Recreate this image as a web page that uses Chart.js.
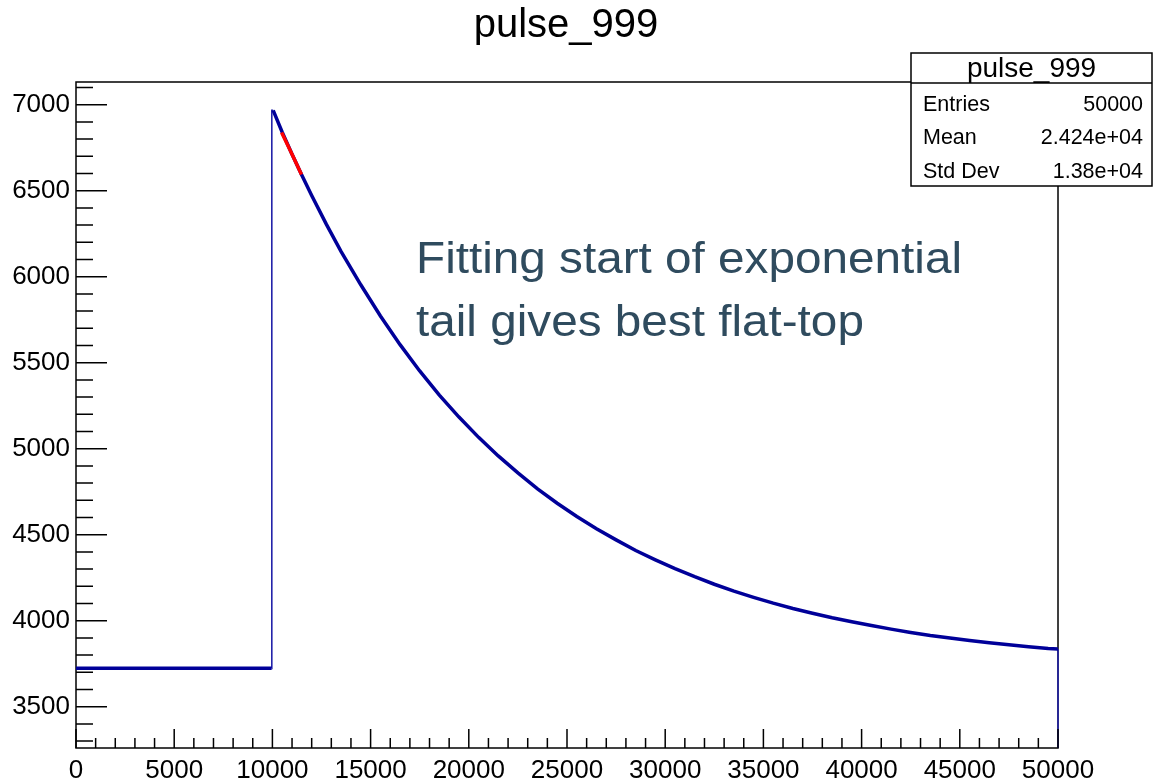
<!DOCTYPE html>
<html>
<head>
<meta charset="utf-8">
<title>pulse_999</title>
<script src="https://cdn.jsdelivr.net/npm/chart.js@4"></script>
<style>
  html, body { margin: 0; padding: 0; background: #fff; }
  #wrap { width: 1153px; height: 783px; }
</style>
</head>
<body>
<div id="wrap"><canvas id="pulse"></canvas></div>
<script>
// pulse baseline before the trigger (sample index, ADC counts)
const baselineX = [0, 9960];
const baselineY = [3723, 3723];

// rising edge: one bin half way up, then the peak
const edgeX = [9960, 9960, 9975, 9975, 10040];
const edgeY = [3723, 4780, 4780, 6967, 6967];

// exponential tail after the peak
const tailX = [10040, 10500, 11000, 11500, 12000, 12750, 13500, 14500, 15500, 16500,
  17500, 18500, 19500, 20500, 21500, 22500, 23500, 24500, 25500, 26500,
  27500, 28500, 29500, 30500, 31500, 32500, 33500, 34500, 35500, 36500,
  37500, 38500, 39500, 40500, 41500, 42500, 43500, 44500, 45500, 46500,
  47500, 48500, 49500, 50000];
const tailY = [6967, 6840, 6712, 6590, 6472, 6304, 6146, 5953, 5772, 5605,
  5452, 5312, 5184, 5066, 4958, 4860, 4767, 4683, 4606, 4535,
  4470, 4408, 4354, 4303, 4256, 4212, 4172, 4136, 4102, 4071,
  4043, 4017, 3994, 3972, 3951, 3932, 3914, 3899, 3885, 3872,
  3860, 3849, 3839, 3836];

// last bin edge dropping to the axis floor
const endX = [50000, 50000];
const endY = [3836, 3260];

// fitted range (red)
const fitX = [10470, 11000, 11480];
const fitY = [6838, 6712, 6594];

// axes
const xRange = [0, 50000];
const yRange = [3260, 7132];
const xMajorTicks = [0, 5000, 10000, 15000, 20000, 25000, 30000, 35000, 40000, 45000, 50000];
const xMinorStep = 1000;
const yMajorTicks = [3500, 4000, 4500, 5000, 5500, 6000, 6500, 7000];
const yMinorStep = 100;

// stats box
const statLabels = ['Entries', 'Mean', 'Std Dev'];
const statValues = ['50000', '2.424e+04', '1.38e+04'];

const histName = 'pulse_999';
const noteLines = ['Fitting start of exponential', 'tail gives best flat-top'];

const FONT = '"Liberation Sans", Arial, Helvetica, sans-serif';
const LINE_BLUE = '#000099';
const EDGE_BLUE = '#2424aa';

function pts(xs, ys) {
  return xs.map((x, i) => ({ x: x, y: ys[i] }));
}

// ROOT-style frame, inside ticks, labels, title, stats box and note
const rootDecor = {
  id: 'rootDecor',
  beforeDatasetsDraw(chart) {
    const ctx = chart.ctx;
    const area = chart.chartArea;
    ctx.save();
    ctx.strokeStyle = '#000';
    ctx.lineWidth = 1.5;
    ctx.strokeRect(area.left, area.top, area.right - area.left, area.bottom - area.top);
    ctx.restore();
  },
  afterDraw(chart) {
    const ctx = chart.ctx;
    const area = chart.chartArea;
    const xs = chart.scales.x;
    const ys = chart.scales.y;

    ctx.save();
    ctx.strokeStyle = '#000';
    ctx.lineWidth = 1.5;
    ctx.beginPath();
    // x ticks
    for (let v = xRange[0]; v <= xRange[1]; v += xMinorStep) {
      const px = xs.getPixelForValue(v);
      const len = xMajorTicks.includes(v) ? 19 : 10;
      ctx.moveTo(px, area.bottom);
      ctx.lineTo(px, area.bottom - len);
    }
    // y ticks
    const yStart = Math.ceil(yRange[0] / yMinorStep) * yMinorStep;
    for (let v = yStart; v <= yRange[1]; v += yMinorStep) {
      const py = ys.getPixelForValue(v);
      const len = yMajorTicks.includes(v) ? 31 : 17;
      ctx.moveTo(area.left, py);
      ctx.lineTo(area.left + len, py);
    }
    ctx.stroke();

    // tick labels
    ctx.fillStyle = '#000';
    ctx.font = '26px ' + FONT;
    ctx.textAlign = 'center';
    ctx.textBaseline = 'middle';
    xMajorTicks.forEach(v => ctx.fillText(String(v), xs.getPixelForValue(v), area.bottom + 23));
    ctx.textAlign = 'right';
    yMajorTicks.forEach(v => ctx.fillText(String(v), area.left - 6, ys.getPixelForValue(v)));

    // histogram title
    ctx.textAlign = 'center';
    ctx.textBaseline = 'alphabetic';
    ctx.font = '40px ' + FONT;
    ctx.fillText(histName, 566, 37);

    // stats box
    const bx = 911, by = 53, bw = 241, bh = 133, titleH = 30;
    ctx.fillStyle = '#fff';
    ctx.fillRect(bx, by, bw, bh);
    ctx.strokeStyle = '#000';
    ctx.lineWidth = 1.5;
    ctx.strokeRect(bx, by, bw, bh);
    ctx.beginPath();
    ctx.moveTo(bx, by + titleH);
    ctx.lineTo(bx + bw, by + titleH);
    ctx.stroke();
    ctx.fillStyle = '#000';
    ctx.font = '28px ' + FONT;
    ctx.textAlign = 'center';
    ctx.textBaseline = 'middle';
    ctx.fillText(histName, bx + bw / 2, by + titleH / 2 + 1);
    ctx.font = '21.5px ' + FONT;
    statLabels.forEach((lab, i) => {
      const ry = by + titleH + 22 + i * 33.5;
      ctx.textAlign = 'left';
      ctx.fillText(lab, bx + 12, ry);
      ctx.textAlign = 'right';
      ctx.fillText(statValues[i], bx + bw - 9, ry);
    });

    // annotation, stretched to its set width
    ctx.fillStyle = '#2f4b5e';
    ctx.font = '45px ' + FONT;
    ctx.textAlign = 'left';
    ctx.textBaseline = 'alphabetic';
    const sx = 546 / ctx.measureText(noteLines[0]).width;
    ctx.translate(416, 0);
    ctx.scale(sx, 1);
    noteLines.forEach((t, i) => ctx.fillText(t, 0, 273 + i * 63));

    ctx.restore();
  }
};

new Chart(document.getElementById('pulse'), {
  type: 'scatter',
  data: {
    datasets: [
      { data: pts(fitX, fitY), borderColor: '#ff0000', borderWidth: 3.5, order: 0 },
      { data: pts(baselineX, baselineY), borderColor: LINE_BLUE, borderWidth: 3.5, order: 1 },
      { data: pts(tailX, tailY), borderColor: LINE_BLUE, borderWidth: 3.5, order: 1 },
      { data: pts(edgeX, edgeY), borderColor: EDGE_BLUE, borderWidth: 1.6, order: 2 },
      { data: pts(endX, endY), borderColor: EDGE_BLUE, borderWidth: 1.6, order: 2 }
    ].map(d => Object.assign(d, { showLine: true, pointRadius: 0, tension: 0, fill: false, clip: 2 }))
  },
  options: {
    responsive: true,
    maintainAspectRatio: false,
    animation: false,
    layout: { padding: { left: 76, top: 82, right: 95, bottom: 35 } },
    plugins: { legend: { display: false }, tooltip: { enabled: false }, title: { display: false } },
    scales: {
      x: { type: 'linear', min: xRange[0], max: xRange[1], display: false },
      y: { type: 'linear', min: yRange[0], max: yRange[1], display: false }
    }
  },
  plugins: [rootDecor]
});
</script>
</body>
</html>
